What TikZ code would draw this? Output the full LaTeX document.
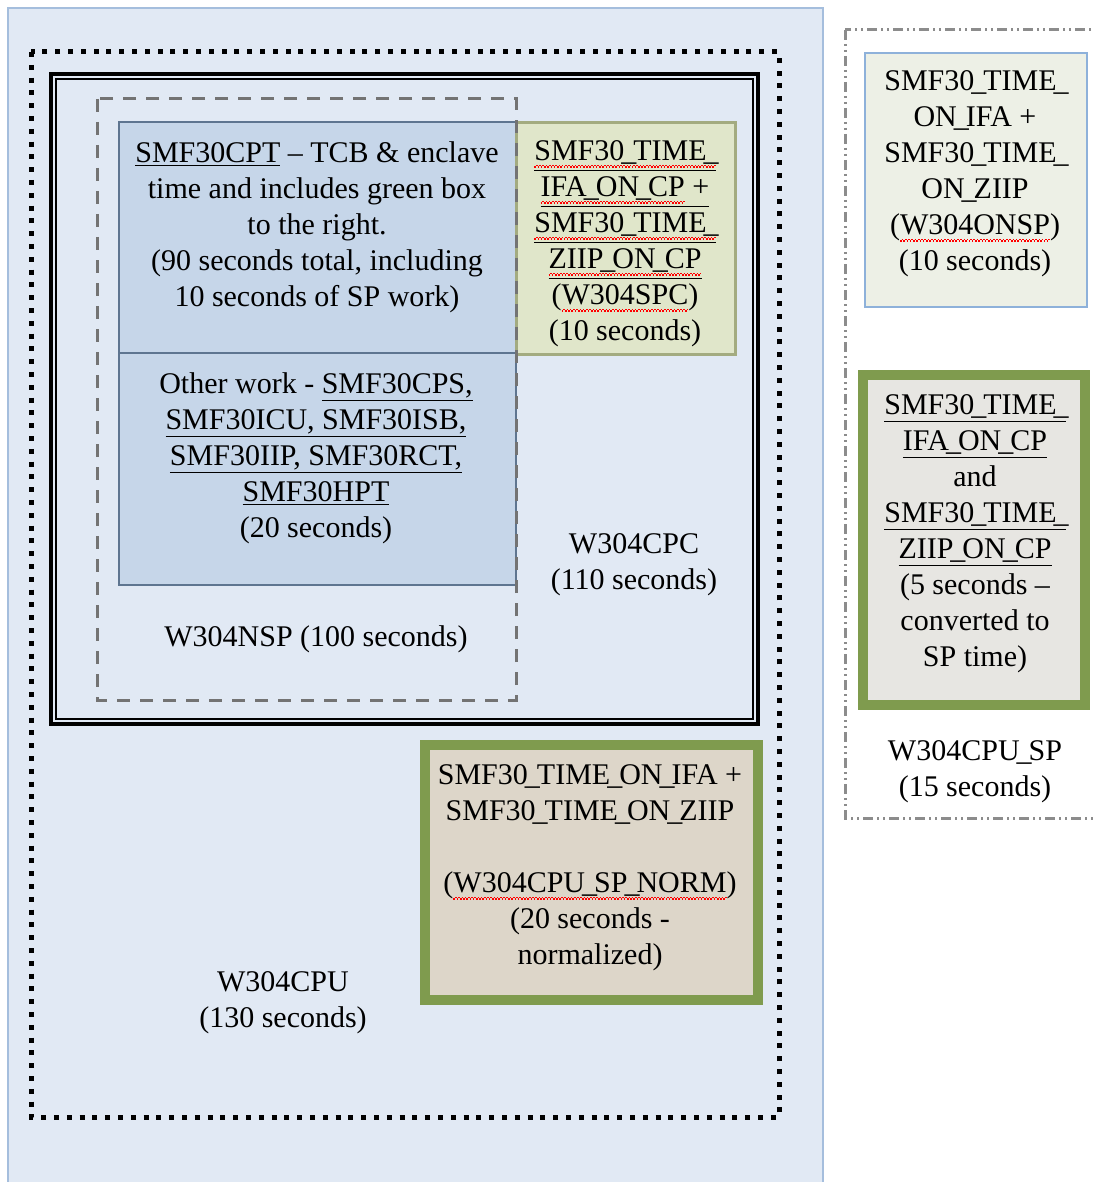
\documentclass[tikz,border=0pt]{standalone}
\usepackage{fontspec}
\setmainfont{Liberation Serif}
\usepackage{tikz}
\usetikzlibrary{positioning}
\definecolor{pageblue}{HTML}{E1E9F4}
\definecolor{pageedge}{HTML}{A5BEDD}
\definecolor{cptblue}{HTML}{C6D6E9}
\definecolor{cptedge}{HTML}{5E7590}
\definecolor{spcgreen}{HTML}{E0E6CA}
\definecolor{spcedge}{HTML}{A3AB80}
\definecolor{normfill}{HTML}{DDD6C9}
\definecolor{greenedge}{HTML}{7F9B4E}
\definecolor{onspfill}{HTML}{EDF0E6}
\definecolor{onspedge}{HTML}{8EB1DA}
\definecolor{convfill}{HTML}{E7E6E2}
\tikzstyle{txt}=[align=center,inner sep=0pt,font=\fontsize{15}{18}\selectfont]
\tikzstyle{cptbox}=[draw=cptedge,fill=cptblue,line width=1pt]
\tikzstyle{spcbox}=[draw=spcedge,fill=spcgreen,line width=1.5pt]
\tikzstyle{greenbox}=[draw=greenedge,line width=5pt]
\tikzstyle{dotline}=[draw=black,line width=2.5pt,dash pattern=on 2.5pt off 3.9pt]
\tikzstyle{dashline}=[draw=black!55,line width=1.5pt,dash pattern=on 6.5pt off 5pt]
\tikzstyle{dashdot}=[draw=black!45,line width=1.5pt,dash pattern=on 5pt off 2pt on 1pt off 2pt on 1pt off 2pt]
\newcommand{\ulk}[1]{\underline{#1}}
\newcommand{\us}{\makebox[0.3em]{\_}}
\newcommand{\spell}[1]{\setbox0=\hbox{#1}\rlap{\color{red}\hbox to\wd0{\xleaders\hbox{\rule[-3.4pt]{0.8pt}{0.6pt}\rule[-2.8pt]{0.8pt}{0.6pt}}\hfill}}\box0\relax}

\begin{document}
\begin{tikzpicture}[x=0.5pt,y=-0.5pt]
        \useasboundingbox (0,0) rectangle (1092,1182);
        \fill[white] (0,0) rectangle (1092,1182);
        % left page
        \fill[pageblue] (8,8) rectangle (823,1182);
        \draw[pageedge,line width=1pt] (8,1182) -- (8,8) -- (823,8) -- (823,1182);
        \draw[dotline] (31,52) rectangle (779,1117);
        \draw[line width=2pt] (51,74) rectangle (758,724);
        \draw[line width=1pt] (56,79) rectangle (753,719);
        \draw[cptbox] (119,122) rectangle (516,353);
        \draw[cptbox] (119,353) rectangle (516,585);
        \draw[spcbox] (516,123) rectangle (735,354);
        \draw[dashline] (97,99) rectangle (516,700);
        \draw[greenbox,fill=normfill] (425,745) rectangle (758,1000);
        % right side
        \draw[dashdot] (845,30) rectangle (1100,818);
        \draw[draw=onspedge,fill=onspfill,line width=1pt] (865,53) rectangle (1087,307);
        \draw[greenbox,fill=convfill] (863,375) rectangle (1085,705);
        % texts
        \node[txt] (cpt) at (317,227) {\ulk{SMF30CPT} -- TCB \& enclave\\time and includes green box\\to the right.\\(90 seconds total, including\\10 seconds of SP work)};
        \node[txt] (other) at (316,458) {Other work - \ulk{SMF30CPS,}\\\ulk{SMF30ICU, SMF30ISB,}\\\ulk{SMF30IIP, SMF30RCT,}\\\ulk{SMF30HPT}\\(20 seconds)};
        \node[txt] (spc) at (625,244) {\ulk{\spell{SMF30\us TIME\us}}\\\ulk{\spell{IFA\us ON\us CP} +}\\\ulk{\spell{SMF30\us TIME\us}}\\\ulk{\spell{ZIIP\us ON\us CP}}\\(\spell{W304SPC})\\(10 seconds)};
        \node[txt] (nsp) at (316,639) {W304NSP (100 seconds)};
        \node[txt] (cpc) at (634,565) {W304CPC\\(110 seconds)};
        \node[txt] (norm) at (590,868) {SMF30\us TIME\us ON\us IFA +\\SMF30\us TIME\us ON\us ZIIP\\[18pt](\spell{W304CPU\us SP\us NORM})\\(20 seconds -\\normalized)};
        \node[txt] (cpu) at (283,1003) {W304CPU\\(130 seconds)};
        \node[txt] (onsp) at (975,174) {SMF30\us TIME\us\\ON\us IFA +\\SMF30\us TIME\us\\ON\us ZIIP\\(\spell{W304ONSP})\\(10 seconds)};
        \node[txt] (conv) at (975,534) {\ulk{SMF30\us TIME\us}\\\ulk{IFA\us ON\us CP}\\and\\\ulk{SMF30\us TIME\us}\\\ulk{ZIIP\us ON\us CP}\\(5 seconds --\\converted to\\SP time)};
        \node[txt] (cpusp) at (975,772) {W304CPU\us SP\\(15 seconds)};
      \end{tikzpicture}
\end{document}
